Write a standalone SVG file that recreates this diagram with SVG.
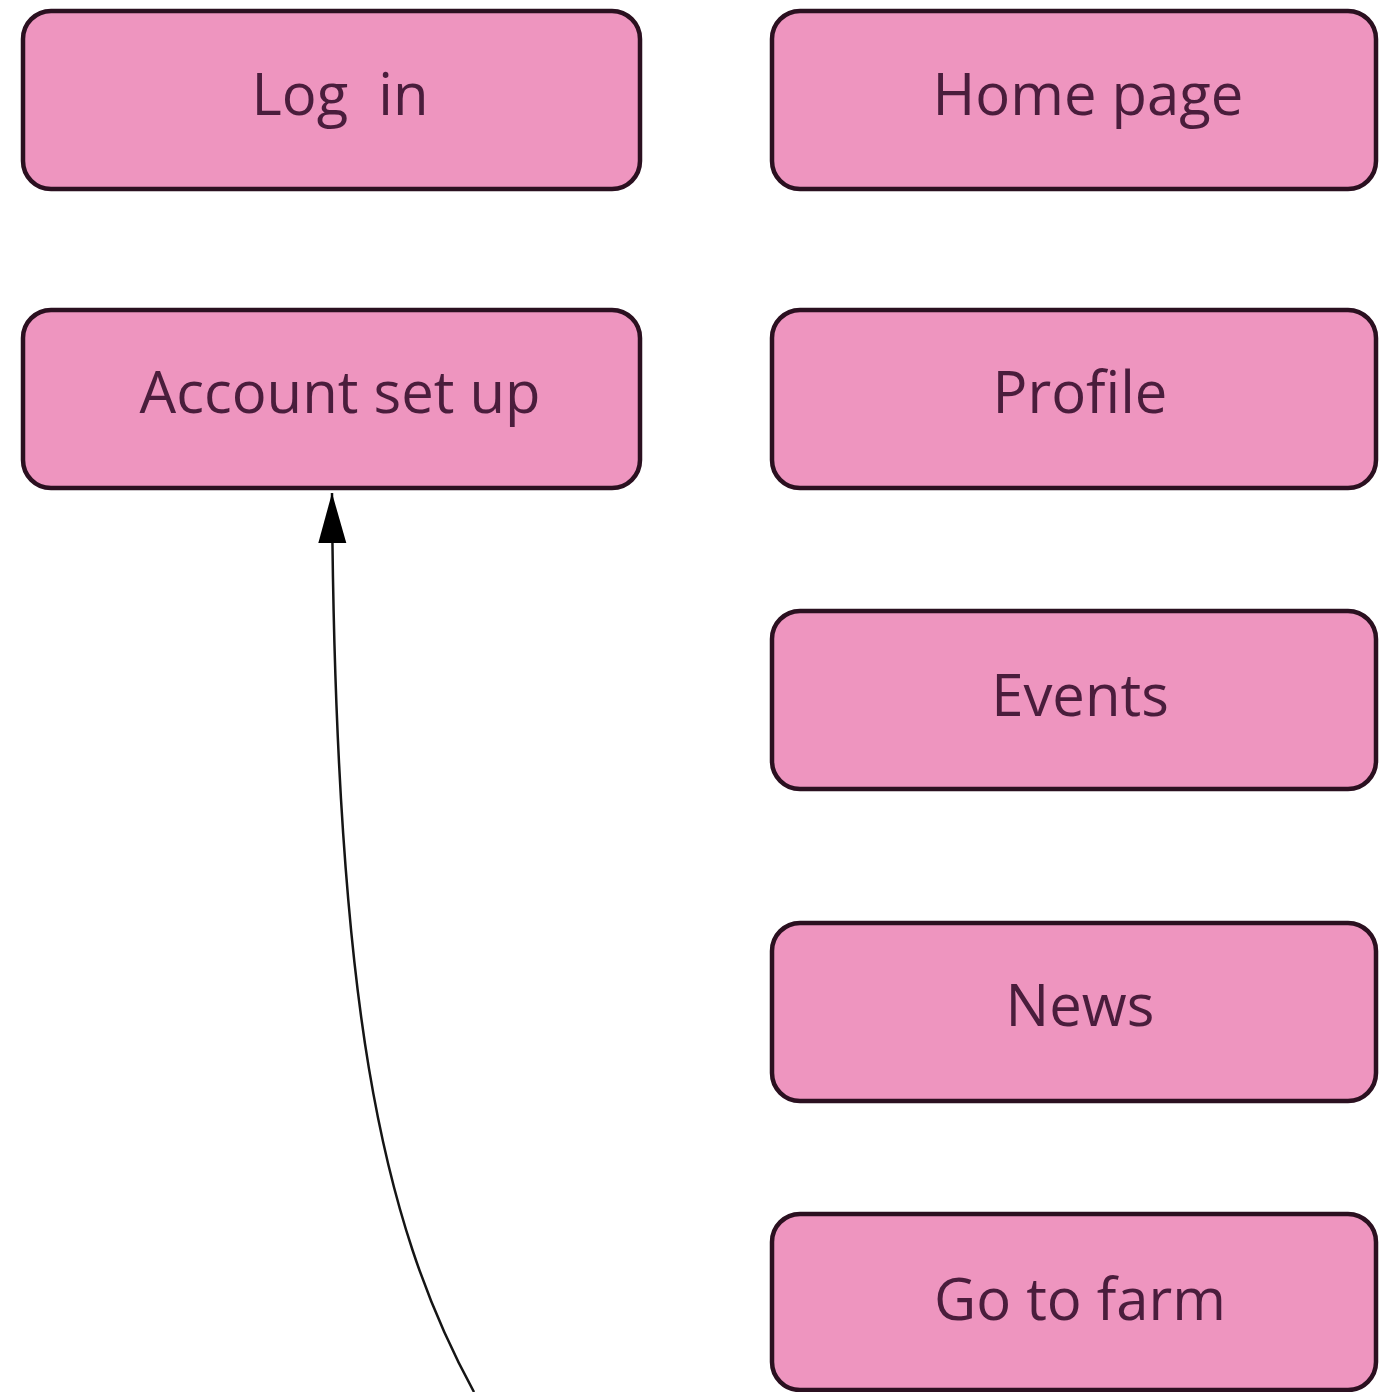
<svg xmlns="http://www.w3.org/2000/svg" width="1379" height="1392" viewBox="0 0 1379 1392">
<style>
.box{fill:#ee95bf;stroke:#2b1020;stroke-width:4.5}
.lbl{font-family:"Open Sans","Noto Sans",sans-serif;font-size:58px;fill:#4a1d3c;text-anchor:middle}
.conn{fill:none;stroke:#151515;stroke-width:2.5}
</style>
<defs>
<marker id="ah" markerUnits="userSpaceOnUse" markerWidth="52" markerHeight="30" refX="50" refY="15" orient="auto">
<path d="M0,1 L50,15 L0,29 Z" fill="#000"/>
</marker>
</defs>
<rect width="1379" height="1392" fill="#fff"/>
<g id="connectors">
<path class="conn" d="M474,1392 C380,1220 335,1000 332,493" marker-end="url(#ah)"/>
</g>
<g id="login">
<rect class="box" x="23" y="11" width="617" height="178" rx="28"/>
<text class="lbl" x="340" y="115" xml:space="preserve">Log  in</text>
</g>
<g id="account">
<rect class="box" x="23" y="310" width="617" height="178" rx="28"/>
<text class="lbl" x="340" y="413">Account set up</text>
</g>
<g id="home">
<rect class="box" x="772" y="11" width="604" height="178" rx="28"/>
<text class="lbl" x="1088" y="115">Home page</text>
</g>
<g id="profile">
<rect class="box" x="772" y="310" width="604" height="178" rx="28"/>
<text class="lbl" x="1080" y="413">Profile</text>
</g>
<g id="events">
<rect class="box" x="772" y="611" width="604" height="178" rx="28"/>
<text class="lbl" x="1080" y="716">Events</text>
</g>
<g id="news">
<rect class="box" x="772" y="923" width="604" height="178" rx="28"/>
<text class="lbl" x="1080" y="1026">News</text>
</g>
<g id="farm">
<rect class="box" x="772" y="1214" width="604" height="176" rx="28"/>
<text class="lbl" x="1080" y="1320">Go to farm</text>
</g>
</svg>
